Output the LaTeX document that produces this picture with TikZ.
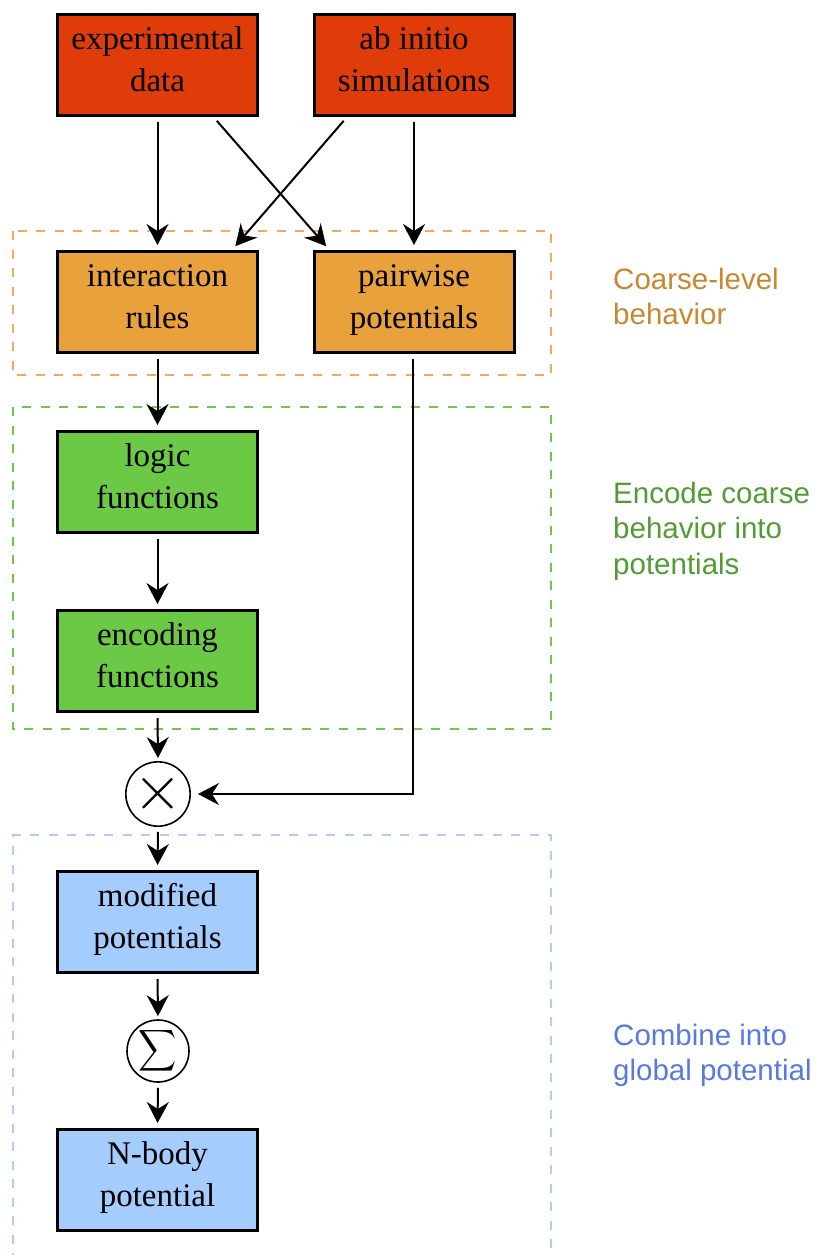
\documentclass[tikz,border=0pt]{standalone}
\usepackage{fontspec}
\setmainfont{Liberation Serif}
\newfontfamily\labfont{Liberation Sans}
\usetikzlibrary{arrows.meta}
\definecolor{cred}{RGB}{223,60,10}
\definecolor{corange}{RGB}{233,161,59}
\definecolor{cgreen}{RGB}{108,201,70}
\definecolor{cblue}{RGB}{164,205,254}
\definecolor{dorange}{RGB}{240,172,90}
\definecolor{dgreen}{RGB}{112,200,72}
\definecolor{dblue}{RGB}{170,208,248}
\definecolor{torange}{RGB}{200,135,48}
\definecolor{tgreen}{RGB}{82,156,52}
\definecolor{tblue}{RGB}{86,122,226}
\newcommand\bxs{\rule[-16pt]{0pt}{42pt}}
\newcommand\lbs{\rule[-10.5pt]{0pt}{35.5pt}}
\begin{document}
\begin{tikzpicture}[x=1pt,y=-1pt,
  box/.style={draw=black, line width=3pt, minimum width=200pt, minimum height=101pt,
    inner sep=0pt, align=center, font=\fontsize{33}{42}\selectfont},
  op/.style={draw=black, circle, line width=1.6pt, minimum size=62pt, inner sep=0pt},
  arr/.style={-{Stealth[length=21pt,width=22pt,inset=7pt]}, line width=2pt,
    shorten <=5pt, shorten >=5pt},
  grp/.style={line width=1.3pt, dash pattern=on 9pt off 9.5pt},
  lab/.style={anchor=north west, inner sep=0pt, align=left,
    font=\labfont\fontsize{29.5}{35.5}\selectfont}]
\useasboundingbox (0,0) rectangle (815,1255);
% groups
\draw[grp, draw=dorange] (13,231) rectangle (551,375);
\draw[grp, draw=dgreen] (13,407) rectangle (551,729);
\draw[grp, draw=dblue] (13,1262) -- (13,835) -- (551,835) -- (551,1262);
% boxes
\node[box, fill=cred] (exp) at (157.5,65) {\bxs experimental\\\bxs data};
\node[box, fill=cred] (abi) at (414,65) {\bxs ab initio\\\bxs simulations};
\node[box, fill=corange] (inter) at (157.5,302) {\bxs interaction\\\bxs rules};
\node[box, fill=corange] (pair) at (414,302) {\bxs pairwise\\\bxs potentials};
\node[box, fill=cgreen] (logic) at (157.5,482) {\bxs logic\\\bxs functions};
\node[box, fill=cgreen] (enc) at (157.5,661) {\bxs encoding\\\bxs functions};
\node[op] (prod) at (158,794) {\scalebox{6.3}{$\times$}};
\node[op] (sum) at (158,1051) {\scalebox{2.65}[2.9]{$\displaystyle\sum$}};
\node[box, fill=cblue] (mod) at (157.5,922) {\bxs modified\\\bxs potentials};
\node[box, fill=cblue] (nb) at (157.5,1180) {\bxs N-body\\\bxs potential};
% labels
\node[lab, text=torange] (l1) at (613,264) {\lbs Coarse-level\\\lbs behavior};
\node[lab, text=tgreen] (l2) at (613,478) {\lbs Encode coarse\\\lbs behavior into\\\lbs potentials};
\node[lab, text=tblue] (l3) at (613,1020) {\lbs Combine into\\\lbs global potential};
% arrows
\draw[arr] (exp.south) -- (inter.north);
\draw[arr] (abi.south) -- (pair.north);
\draw[arr] ([xshift=56pt]exp.south) -- ([xshift=17pt]pair.north west);
\draw[arr] ([xshift=-67pt]abi.south) -- ([xshift=-27pt]inter.north east);
\draw[arr] (inter.south) -- (logic.north);
\draw[arr] (logic.south) -- (enc.north);
\draw[arr, shorten >=3pt] (enc.south) -- (prod.north);
\draw[arr, shorten >=7pt] ([xshift=-1pt]pair.south) |- (prod.east);
\draw[arr] (prod.south) -- (mod.north);
\draw[arr, shorten >=3pt] (mod.south) -- (sum.north);
\draw[arr] (sum.south) -- (nb.north);
\end{tikzpicture}
\end{document}
